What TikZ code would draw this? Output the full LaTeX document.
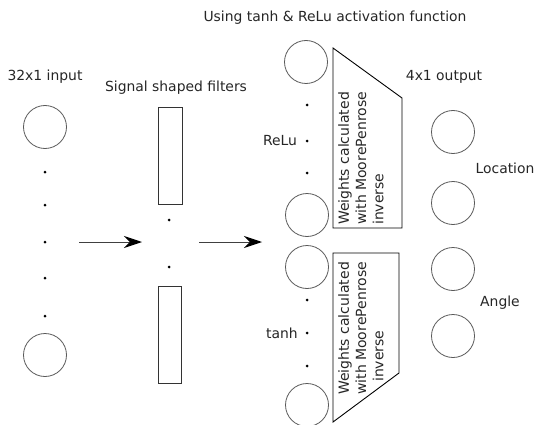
\documentclass[tikz,border=0pt]{standalone}
\usepackage{fontspec}
\setmainfont{DejaVu Sans}
\usetikzlibrary{arrows.meta}
\begin{document}
\begin{tikzpicture}[x=1pt,y=-1pt,
  neuron/.style={draw=black!65,line width=0.8pt,circle,minimum size=43pt,inner sep=0pt},
  smalldot/.style={fill=black,circle,inner sep=0pt,minimum size=3pt},
  filterbox/.style={draw=black!80,line width=0.8pt},
  lbl/.style={font=\fontsize{13.9}{16}\selectfont,inner sep=0pt,text=black!85},
  wtext/.style={font=\fontsize{14}{17.3}\selectfont,rotate=90,align=left,anchor=north west,inner sep=0pt,text=black!85},
  flow/.style={-{Stealth[length=18pt,width=12pt,inset=6pt,black]},line width=1pt,draw=black!75}]
\useasboundingbox (0,0) rectangle (540,425);
% input layer
\node[lbl] (inlbl) at (45,77) {32x1 input};
\node[neuron] (in1) at (45,127) {};
\node[neuron] (in2) at (45,355) {};
\foreach \y/\n in {172/a,205/b,242/c,278/d,316/e} \node[smalldot] (ind\n) at (45,\y) {};
% arrows
\coordinate (a1s) at (79,242); \coordinate (a1e) at (142,242);
\coordinate (a2s) at (199,242); \coordinate (a2e) at (262,242);
\draw[flow] (a1s) -- (a1e);
\draw[flow] (a2s) -- (a2e);
% filters
\node[lbl] (filbl) at (176,88) {Signal shaped filters};
\draw[filterbox] (158,107) rectangle (182,204);
\draw[filterbox] (158,286) rectangle (181,383);
\node[smalldot] (fd1) at (169,220) {};
\node[smalldot] (fd2) at (169,267) {};
% hidden
\node[lbl] (toplbl) at (335,18) {Using tanh \& ReLu activation function};
\node[neuron] (h1) at (306,62) {};
\node[neuron] (h2) at (307,215) {};
\node[neuron] (h3) at (307,267) {};
\node[neuron] (h4) at (307,405) {};
\foreach \y/\n in {105/a,141/b,173/c} \node[smalldot] (hr\n) at (307,\y) {};
\foreach \y/\n in {300/a,333/b,366/c} \node[smalldot] (ht\n) at (307,\y) {};
\node[lbl] (relu) at (280,141) {ReLu};
\node[lbl] (tanh) at (282,333) {tanh};
% trapezoids
\draw[line width=0.9pt] (333,48) -- (402,98) -- (402,228) -- (333,228) -- cycle;
\draw[line width=0.9pt] (333,253) -- (399,253) -- (399,373) -- (333,422) -- cycle;
\node[wtext] (w1) at (338,225) {Weights calculated\\with MoorePenrose\\inverse};
\node[wtext] (w2) at (338,395) {Weights calculated\\with MoorePenrose\\\hspace*{13pt}inverse};
% output
\node[lbl] (outlbl) at (444,77) {4x1 output};
\node[neuron] (o1) at (453,132) {};
\node[neuron] (o2) at (453,203) {};
\node[neuron] (o3) at (453,269) {};
\node[neuron] (o4) at (453,336) {};
\node[lbl] (loc) at (505,168) {Location};
\node[lbl] (ang) at (500,303) {Angle};
\end{tikzpicture}
\end{document}
